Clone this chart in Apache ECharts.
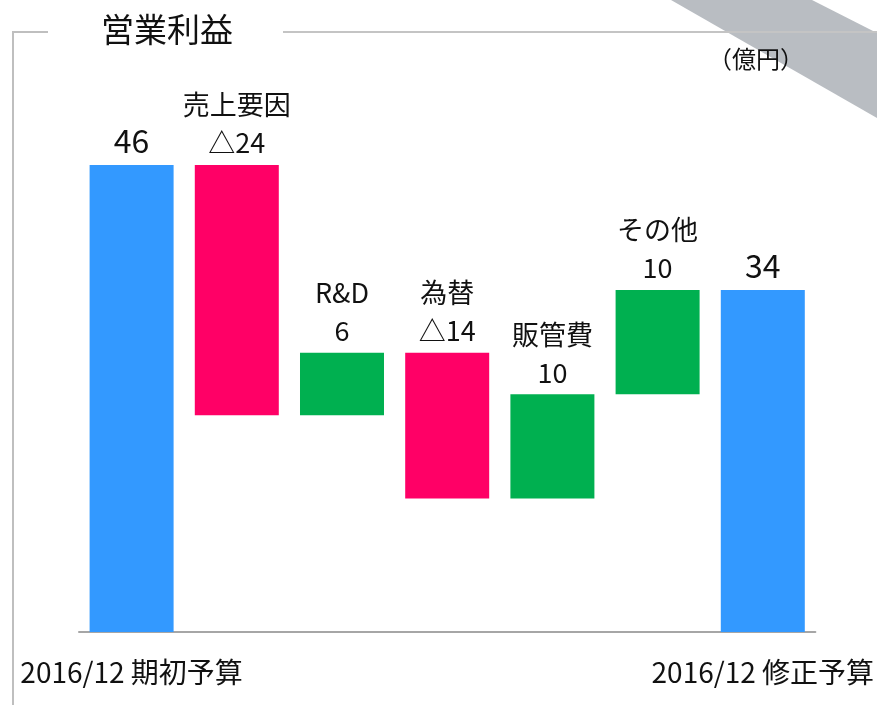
<!DOCTYPE html>
<html>
<head>
<meta charset="utf-8" />
<title>営業利益</title>
<script src="https://cdn.jsdelivr.net/npm/echarts/dist/echarts.min.js"></script>
<style>
  html, body { margin: 0; padding: 0; background: #fff; }
  #chart { width: 877px; height: 705px; }
</style>
</head>
<body>
<div id="chart"></div>
<script>
// カテゴリ（両端は軸ラベル、中間は棒の上に表示）
var categories = ['2016/12 期初予算', '売上要因', 'R&D', '為替', '販管費', 'その他', '2016/12 修正予算'];
// 期初・修正予算（億円）
var totals = [46, '-', '-', '-', '-', '-', 34];
// 減益要因（△）
var decreases = ['-', 24, '-', 14, '-', '-', '-'];
// 増益要因
var increases = ['-', '-', 6, '-', 10, 10, '-'];

// 透明な土台（累計から求める）
var base = [];
var running = totals[0];
for (var i = 0; i < categories.length; i++) {
  if (decreases[i] !== '-') {
    running -= decreases[i];
    base.push(running);
  } else if (increases[i] !== '-') {
    base.push(running);
    running += increases[i];
  } else {
    base.push('-');
  }
}

var myChart = echarts.init(document.getElementById('chart'));

var labelStyle = {
  show: true,
  position: 'top',
  distance: 3,
  color: '#111',
  fontSize: 27,
  lineHeight: 38
};

var option = {
  animation: false,
  textStyle: { fontFamily: 'Noto Sans CJK JP' },
  grid: { left: 79, right: 61, top: 165, bottom: 73 },
  xAxis: {
    type: 'category',
    data: categories,
    axisTick: { show: false },
    axisLine: { lineStyle: { color: '#a6a6a6', width: 2 } },
    axisLabel: {
      interval: 0,
      margin: 26,
      fontSize: 28,
      color: '#111',
      formatter: function(v, idx) {
        return (idx === 0 || idx === categories.length - 1) ? v : '';
      }
    }
  },
  yAxis: {
    type: 'value',
    min: 1.2,
    max: 46,
    show: false,
    splitLine: { show: false }
  },
  graphic: [
    // 右上の斜めの帯
    {
      type: 'polygon',
      z: 1,
      shape: { points: [[671, 0], [812, 0], [877, 33], [877, 118]] },
      style: { fill: '#b9bdc2' }
    },
    // 枠線
    {
      type: 'polyline',
      z: 2,
      shape: { points: [[48, 32], [13, 32], [13, 705]] },
      style: { stroke: '#bfbfbf', lineWidth: 2, fill: null }
    },
    {
      type: 'line',
      z: 2,
      shape: { x1: 283, y1: 32, x2: 877, y2: 32 },
      style: { stroke: '#c4c4c4', lineWidth: 2 }
    },
    // タイトル
    {
      type: 'text',
      z: 3,
      left: 101,
      top: 13,
      style: { text: '営業利益', fontSize: 33, fill: '#111', fontFamily: 'Noto Sans CJK JP' }
    },
    // 単位
    {
      type: 'text',
      z: 3,
      left: 708,
      top: 47,
      style: { text: '（億円）', fontSize: 24, fill: '#111', fontFamily: 'Noto Sans CJK JP' }
    }
  ],
  series: [
    {
      name: 'base',
      type: 'bar',
      stack: 'w',
      barWidth: 84,
      itemStyle: { color: 'transparent' },
      emphasis: { disabled: true },
      data: base
    },
    {
      name: '減少',
      type: 'bar',
      stack: 'w',
      barWidth: 84,
      itemStyle: { color: '#ff0066' },
      label: Object.assign({}, labelStyle, {
        formatter: function(p) { return p.name + '\n△' + p.value; }
      }),
      data: decreases
    },
    {
      name: '増加',
      type: 'bar',
      stack: 'w',
      barWidth: 84,
      itemStyle: { color: '#00b050' },
      label: Object.assign({}, labelStyle, {
        formatter: function(p) { return p.name + '\n' + p.value; }
      }),
      data: increases
    },
    {
      name: '予算',
      type: 'bar',
      stack: 'w',
      barWidth: 84,
      itemStyle: { color: '#3399ff' },
      label: Object.assign({}, labelStyle, {
        fontSize: 32,
        lineHeight: 38,
        distance: 5,
        formatter: '{c}'
      }),
      data: totals
    }
  ]
};

myChart.setOption(option);
</script>
</body>
</html>
